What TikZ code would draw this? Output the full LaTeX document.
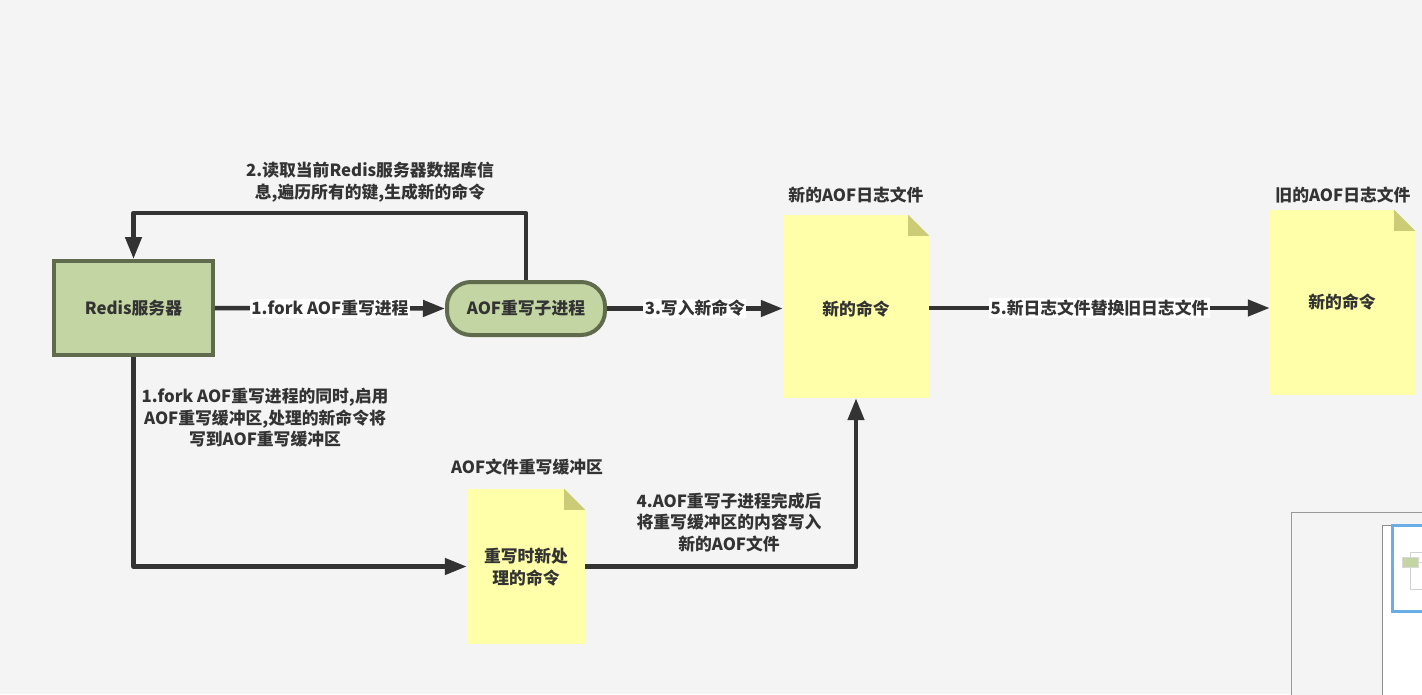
\documentclass[tikz,border=0pt]{standalone}
\usepackage{fontspec}
\setmainfont{Noto Sans CJK SC}
\usetikzlibrary{arrows.meta,calc}
\definecolor{bgc}{HTML}{F4F4F4}
\definecolor{greenfill}{HTML}{C2D5A3}
\definecolor{greenline}{HTML}{5F6B4C}
\definecolor{notefill}{HTML}{FFFFAA}
\definecolor{notefold}{HTML}{CCCC77}
\definecolor{ink}{HTML}{333333}
\definecolor{mapblue}{HTML}{6AAEE8}
\tikzset{
  txt/.style={font=\fontsize{16.8}{21.5}\selectfont\bfseries, text=ink, align=center, inner sep=1pt},
  lbl/.style={txt, fill=white, inner sep=1.5pt},
  procbox/.style={txt, draw=greenline, fill=greenfill, line width=4pt, minimum width=159pt, minimum height=94pt},
  pillbox/.style={txt, draw=greenline, fill=greenfill, line width=4pt, minimum width=158pt, minimum height=53pt, rounded corners=24pt},
  notebox/.style={txt, fill=notefill, draw=none},
  conn/.style={draw=ink, line width=4.5pt, line join=round, -{Triangle[length=22pt,width=16pt]}},
}
\newcommand{\fold}[1]{%
  \fill[bgc] (#1.north east) -- ($(#1.north east)+(-21,0)$) -- ($(#1.north east)+(0,21)$) -- cycle;
  \fill[notefold] ($(#1.north east)+(-21,0)$) -- ($(#1.north east)+(-21,21)$) -- ($(#1.north east)+(0,21)$) -- cycle;}
\begin{document}
\begin{tikzpicture}[x=1pt,y=-1pt]
\fill[bgc] (0,0) rectangle (1422,694);
\useasboundingbox (0,0) rectangle (1422,694);

% nodes
\node[procbox] (redis) at (133.5,308) {Redis服务器};
\node[pillbox] (pill) at (526,308.5) {AOF重写子进程};
\node[notebox, minimum width=146pt, minimum height=183pt] (n1) at (856,306.5) {};
\node[txt] (n1t) at (856,309) {新的命令};
\node[notebox, minimum width=145pt, minimum height=185pt] (n2) at (1342.5,302.5) {};
\node[txt] (n2t) at (1342,302) {新的命令};
\node[notebox, minimum width=118pt, minimum height=155pt] (n3) at (526,566.5) {};
\node[txt] (n3t) at (526,567) {重写时新处\\理的命令};
\fold{n1}
\fold{n2}
\fold{n3}

% titles
\node[txt] (t1) at (856,195) {新的AOF日志文件};
\node[txt] (t2) at (1343,195) {旧的AOF日志文件};
\node[txt] (t3) at (527,467) {AOF文件重写缓冲区};

% connectors
\draw[conn] (redis.east) -- node[lbl] (l1) {1.fork AOF重写进程} (pill.west);
\draw[conn] (pill.east) -- node[lbl] (l3) {3.写入新命令} (n1.west |- pill.east);
\draw[conn] (n1.east |- 0,308) -- node[lbl] (l5) {5.新日志文件替换旧日志文件} (n2.west |- 0,308);
\coordinate (topline) at (0,213);
\draw[conn] (pill.north) -- (pill.north |- topline) -| (redis.north);
\node[txt] (l2) at (370,182) {2.读取当前Redis服务器数据库信\\息,遍历所有的键,生成新的命令};
\draw[conn] (redis.south) |- (n3.west);
\node[txt] (l1b) at (265,418) {1.fork AOF重写进程的同时,启用\\AOF重写缓冲区,处理的新命令将\\写到AOF重写缓冲区};
\draw[conn] (n3.east) -| (n1.south);
\node[txt] (l4) at (729,522) {4.AOF重写子进程完成后\\将重写缓冲区的内容写入\\新的AOF文件};

% minimap (editor overlay)
\fill[black!8] (1294,515) rectangle (1422,694);
\filldraw[fill=bgc, draw=black!40, line width=1pt] (1291,512) rectangle (1424,696);
\filldraw[fill=white, draw=black!45, line width=1pt] (1382,525) rectangle (1424,696);
\draw[black!18, line width=1pt] (1410,552) -- (1424,552);
\draw[black!18, line width=1pt] (1410,552) -- (1410,589) -- (1424,589);
\draw[black!18, line width=1pt] (1418,562) -- (1424,562);
\filldraw[fill=greenfill, draw=black!15, line width=0.6pt] (1402,557) rectangle (1418,567);
\draw[mapblue, line width=3pt] (1426,525.5) -- (1392.5,525.5) -- (1392.5,611.5) -- (1426,611.5);
\end{tikzpicture}
\end{document}
